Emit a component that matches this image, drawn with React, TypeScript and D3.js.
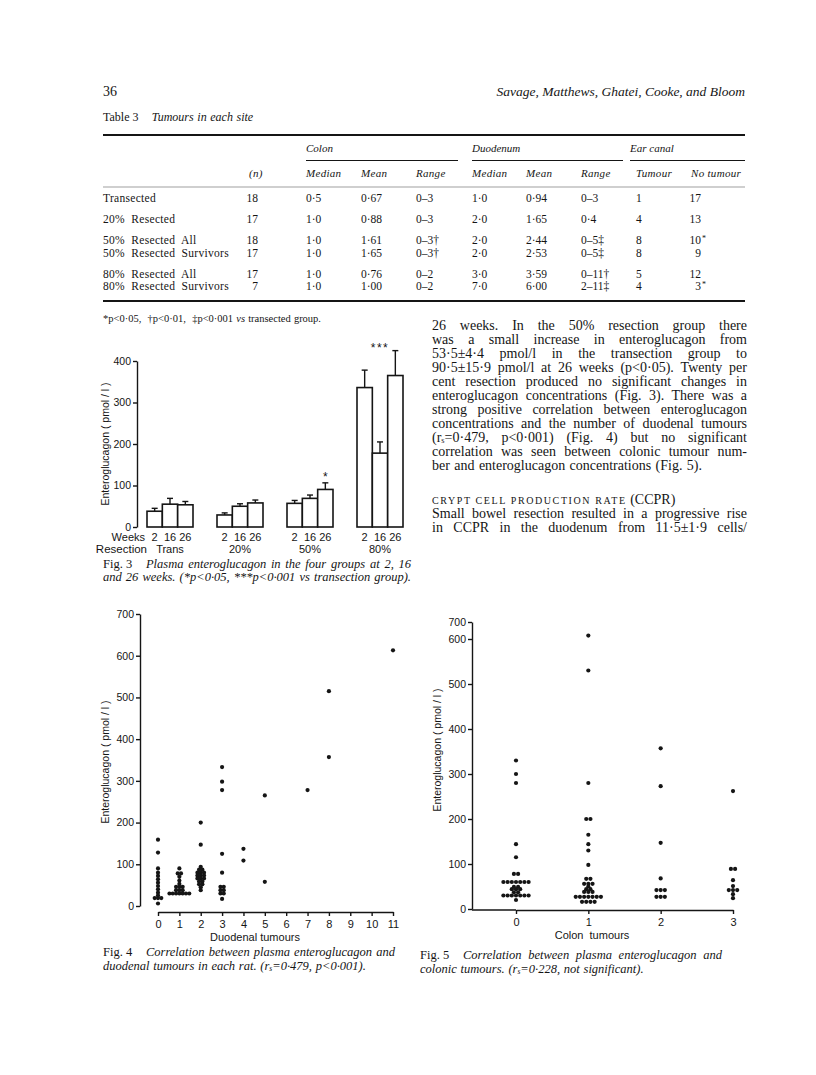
import { useEffect, useRef } from 'react';
import * as d3 from 'd3';

const SERIF = "'Liberation Serif', 'Times New Roman', serif";
const SANS = "'Liberation Sans', Arial, sans-serif";
const INK = '#151515';

// Table 3  Tumours in each site
const tableGroups = ['Colon', 'Duodenum', 'Ear canal'];
const tableColumns = ['(n)', 'Median', 'Mean', 'Range', 'Median', 'Mean', 'Range', 'Tumour', 'No tumour'];
const rowLabels = ['Transected', '20%  Resected', '50%  Resected  All', '50%  Resected  Survivors', '80%  Resected  All', '80%  Resected  Survivors'];
const rowBlock = [0, 1, 2, 2, 3, 3];
const rowN = ['18', '17', '18', '17', '17', '7'];
const colonMedian = ['0·5', '1·0', '1·0', '1·0', '1·0', '1·0'];
const colonMean = ['0·67', '0·88', '1·61', '1·65', '0·76', '1·00'];
const colonRange = ['0–3', '0–3', '0–3†', '0–3†', '0–2', '0–2'];
const duoMedian = ['1·0', '2·0', '2·0', '2·0', '3·0', '7·0'];
const duoMean = ['0·94', '1·65', '2·44', '2·53', '3·59', '6·00'];
const duoRange = ['0–3', '0·4', '0–5‡', '0–5‡', '0–11†', '2–11‡'];
const earTumour = ['1', '4', '8', '8', '5', '4'];
const earNoTumour = ['17', '13', '10', '9', '12', '3'];
const earNoTumourMark = ['', '', '*', '', '', '*'];

// Fig. 3  plasma enteroglucagon (pmol/l), mean and SEM at 2, 16, 26 weeks
const weekLabels = ['2', '16', '26'];
const resectionLabels = ['Trans', '20%', '50%', '80%'];
const transMean = [38, 55, 53.5];
const transSem = [7, 14, 8];
const resect20Mean = [29, 50, 58];
const resect20Sem = [5, 6, 7];
const resect50Mean = [57, 69, 90.5];
const resect50Sem = [7, 8, 15.9];
const resect80Mean = [336, 178, 365];
const resect80Sem = [42, 27, 60];
const barMarks = ['', '', '', '', '', '', '', '', '*', '', '', ''];
const groupMarks = ['', '', '', '***'];
const fig3Ticks = [0, 100, 200, 300, 400];

// Fig. 4  enteroglucagon by number of duodenal tumours
const duodenal0 = [159, 128, 90, 80, 72, 64, 56, 48, 40, 32, 25, 19, 19, 19, 6];
const duodenal1 = [90, 78, 78, 70, 61, 53, 46, 46, 46, 38, 38, 38, 30, 30, 30, 30, 30, 30, 30];
const duodenal2 = [200, 147, 94, 87, 87, 80, 80, 80, 73, 73, 73, 66, 66, 66, 59, 59, 52, 52, 45, 38];
const duodenal3 = [333, 298, 278, 125, 80, 46, 46, 38, 38, 30, 30, 17];
const duodenal4 = [137, 109];
const duodenal5 = [265, 58];
const duodenal7 = [278];
const duodenal8 = [515, 357];
const duodenal11 = [613];
const duodenalTicks = d3.range(0, 12);

// Fig. 5  enteroglucagon by number of colon tumours
const colon0 = [330, 300, 280, 144, 115, 78, 78, 60, 60, 60, 60, 60, 60, 60, 49, 49, 44, 44, 44, 37, 37, 30, 30, 30, 30, 30, 30, 30, 20];
const colon1 = [620, 530, 280, 200, 200, 165, 144, 130, 98, 67, 67, 56, 56, 56, 50, 44, 44, 38, 38, 38, 27, 27, 27, 27, 27, 27, 27, 16, 16, 16, 16];
const colon2 = [357, 273, 147, 68, 42, 42, 42, 27, 27, 27];
const colon3 = [262, 89, 89, 64, 51, 42, 42, 42, 33, 24];
const colonTicks = [0, 1, 2, 3];
const glucagonTicks = [0, 100, 200, 300, 400, 500, 600, 700];

// page text
const resultsLines = [
  '26 weeks. In the 50% resection group there',
  'was a small increase in enteroglucagon from',
  '53·5±4·4 pmol/l in the transection group to',
  '90·5±15·9 pmol/l at 26 weeks (p<0·05). Twenty per',
  'cent resection produced no significant changes in',
  'enteroglucagon concentrations (Fig. 3). There was a',
  'strong positive correlation between enteroglucagon',
  'concentrations and the number of duodenal tumours',
  '(r_{s}=0·479, p<0·001) (Fig. 4) but no significant',
  'correlation was seen between colonic tumour num-',
  'ber and enteroglucagon concentrations (Fig. 5).',
];
const ccprLines = [
  'Small bowel resection resulted in a progressive rise',
  'in CCPR in the duodenum from 11·5±1·9 cells/',
];

function richText(sel, str, size) {
  const parts = str.split(/(_\{[^}]*\})/).filter(Boolean);
  let shifted = false;
  parts.forEach(p => {
    const m = p.match(/^_\{(.*)\}$/);
    if (m) {
      sel.append('tspan').attr('dy', size * 0.1).attr('font-size', size * 0.6).text(m[1]);
      shifted = true;
    } else {
      const t = sel.append('tspan').text(p);
      if (shifted) { t.attr('dy', -size * 0.1); shifted = false; }
    }
  });
}

// lays out one line word by word, stretching the gaps when a width is given
function setLine(g, spec) {
  const { x, y, size } = spec;
  let start = x;
  if (spec.lead) {
    const lead = g.append('text').attr('x', x).attr('y', y).attr('font-size', size).text(spec.lead);
    start = x + lead.node().getComputedTextLength() + size * 1.1;
  }
  const words = spec.text.split(' ');
  const nodes = words.map(w => {
    const flip = /^\/.+\/$/.test(w);
    const italic = flip ? !spec.italic : spec.italic;
    const t = g.append('text').attr('y', y).attr('font-size', size)
      .attr('font-style', italic ? 'italic' : 'normal');
    richText(t, flip ? w.slice(1, -1) : w, size);
    return t;
  });
  const widths = nodes.map(n => n.node().getComputedTextLength());
  let gap = size * 0.3;
  if (spec.width && words.length > 1) gap = (x + spec.width - start - d3.sum(widths)) / (words.length - 1);
  let cx = start;
  nodes.forEach((n, i) => { n.attr('x', cx); cx += widths[i] + gap; });
}

function styleAxis(a, size = 10.5) {
  a.select('.domain').attr('stroke', INK).attr('stroke-width', 1.4);
  a.selectAll('.tick line').attr('stroke', INK).attr('stroke-width', 1.4);
  a.selectAll('.tick text').attr('fill', INK).attr('font-family', SANS).attr('font-size', size);
}

function drawPage(svg) {
  const g = svg.append('g').attr('font-family', SERIF).attr('fill', INK);
  g.append('text').attr('x', 103).attr('y', 96).attr('font-size', 14).text('36');
  g.append('text').attr('x', 745).attr('y', 96).attr('font-size', 13.5).attr('font-style', 'italic')
    .attr('text-anchor', 'end').text('Savage, Matthews, Ghatei, Cooke, and Bloom');

  resultsLines.forEach((line, i) => {
    setLine(g, { x: 432, y: 330 + i * 14, size: 14, text: line, width: i === resultsLines.length - 1 ? 270 : 315 });
  });
  const head = g.append('text').attr('x', 432).attr('y', 504).attr('font-size', 10);
  head.append('tspan').attr('letter-spacing', 1.6).text('CRYPT CELL PRODUCTION RATE');
  head.append('tspan').attr('font-size', 14).text(' (CCPR)');
  ccprLines.forEach((line, i) => {
    setLine(g, { x: 432, y: 518 + i * 14, size: 14, text: line, width: 315 });
  });

  // figure captions
  setLine(g, { x: 103, y: 568, size: 12.5, lead: 'Fig. 3', italic: true, width: 308, text: 'Plasma enteroglucagon in the four groups at 2, 16' });
  setLine(g, { x: 103, y: 581, size: 12.5, italic: true, width: 308, text: 'and 26 weeks. (*p<0·05, ***p<0·001 vs transection group).' });
  setLine(g, { x: 103, y: 956, size: 12.5, lead: 'Fig. 4', italic: true, width: 292, text: 'Correlation between plasma enteroglucagon and' });
  setLine(g, { x: 103, y: 970, size: 12.5, italic: true, text: 'duodenal tumours in each rat. (r_{s}=0·479, p<0·001).' });
  setLine(g, { x: 420, y: 959, size: 12.5, lead: 'Fig. 5', italic: true, width: 302, text: 'Correlation between plasma enteroglucagon and' });
  setLine(g, { x: 420, y: 973, size: 12.5, italic: true, text: 'colonic tumours. (r_{s}=0·228, not significant).' });
}

function drawTable(svg) {
  const g = svg.append('g').attr('font-family', SERIF).attr('fill', INK);
  const left = 103;
  const right = 745;
  setLine(g, { x: left, y: 121, size: 12, lead: 'Table 3', italic: true, text: 'Tumours in each site' });

  const rule = (y, x1, x2, w, c = INK) => g.append('line').attr('x1', x1).attr('x2', x2)
    .attr('y1', y).attr('y2', y).attr('stroke', c).attr('stroke-width', w);
  rule(135, left, right, 2);

  const colX = [258, 306, 361, 416, 472, 526, 581, 636, 701];
  const groupSpan = [[306, 458], [472, 623], [630, right]];
  tableGroups.forEach((name, i) => {
    g.append('text').attr('x', groupSpan[i][0]).attr('y', 152).attr('font-size', 11)
      .attr('font-style', 'italic').text(name);
    rule(160.5, groupSpan[i][0], groupSpan[i][1], 1);
  });
  tableColumns.forEach((name, i) => {
    g.append('text').attr('x', i === 0 ? 249 : i === 8 ? 691 : colX[i]).attr('y', 177)
      .attr('font-size', 11).attr('font-style', 'italic').attr('letter-spacing', 0.3).text(name);
  });
  rule(187, left, right, 0.7, '#777');

  const columns = [rowN, colonMedian, colonMean, colonRange, duoMedian, duoMean, duoRange, earTumour, earNoTumour];
  rowLabels.forEach((label, r) => {
    const y = 202 + rowBlock[r] * 21 + (r - rowBlock[r]) * 12.5;
    g.append('text').attr('x', left).attr('y', y).attr('font-size', 11.5)
      .style('white-space', 'pre').attr('letter-spacing', 0.3).text(label);
    columns.forEach((col, c) => {
      const end = c === 0 || c === 8;
      g.append('text').attr('x', colX[c]).attr('y', y).attr('font-size', 11.5)
        .attr('text-anchor', end ? 'end' : 'start').text(col[r]);
    });
    if (earNoTumourMark[r]) {
      g.append('text').attr('x', colX[8] + 1).attr('y', y - 3).attr('font-size', 8).text(earNoTumourMark[r]);
    }
  });
  rule(301, left, right, 2);
  setLine(g, { x: left, y: 322, size: 10.5, text: '*p<0·05,  †p<0·01,  ‡p<0·001 /vs/ transected group.' });
}

function drawFig3(svg) {
  const g = svg.append('g');
  const series = [
    { mean: transMean, sem: transSem },
    { mean: resect20Mean, sem: resect20Sem },
    { mean: resect50Mean, sem: resect50Sem },
    { mean: resect80Mean, sem: resect80Sem },
  ];
  const x0 = d3.scaleBand().domain(resectionLabels).range([147, 403]).paddingInner(24 / 70).paddingOuter(0);
  const x1 = d3.scaleBand().domain(weekLabels).range([0, x0.bandwidth()]);
  const y = d3.scaleLinear().domain([0, 400]).range([527, 361]);

  const bars = series.flatMap((s, gi) => s.mean.map((m, wi) => ({
    group: resectionLabels[gi], week: weekLabels[wi], mean: m, sem: s.sem[wi], mark: barMarks[gi * 3 + wi],
  })));

  g.selectAll('rect.bar').data(bars).join('rect')
    .attr('x', d => x0(d.group) + x1(d.week))
    .attr('y', d => y(d.mean))
    .attr('width', x1.bandwidth())
    .attr('height', d => y(0) - y(d.mean))
    .attr('fill', '#fff').attr('stroke', INK).attr('stroke-width', 1.6);

  const cx = d => x0(d.group) + x1(d.week) + x1.bandwidth() / 2;
  g.selectAll('line.err').data(bars).join('line')
    .attr('x1', cx).attr('x2', cx)
    .attr('y1', d => y(d.mean)).attr('y2', d => y(d.mean + d.sem))
    .attr('stroke', INK).attr('stroke-width', 1.4);
  g.selectAll('line.cap').data(bars).join('line')
    .attr('x1', d => cx(d) - 3).attr('x2', d => cx(d) + 3)
    .attr('y1', d => y(d.mean + d.sem)).attr('y2', d => y(d.mean + d.sem))
    .attr('stroke', INK).attr('stroke-width', 1.4);

  g.selectAll('text.mark').data(bars.filter(d => d.mark)).join('text')
    .attr('x', cx).attr('y', d => y(d.mean + d.sem) - 2)
    .attr('text-anchor', 'middle').attr('font-family', SANS).attr('font-size', 12).attr('fill', INK)
    .text(d => d.mark);
  resectionLabels.forEach((lab, gi) => {
    if (!groupMarks[gi]) return;
    const top = d3.max(bars.filter(d => d.group === lab), d => d.mean + d.sem);
    g.append('text').attr('x', x0(lab) + x0.bandwidth() / 2).attr('y', y(top) + 1)
      .attr('text-anchor', 'middle').attr('font-family', SANS).attr('font-size', 12)
      .attr('letter-spacing', 1.5).attr('fill', INK).text(groupMarks[gi]);
  });

  const yAxis = g.append('g').attr('transform', 'translate(137,0)')
    .call(d3.axisLeft(y).tickValues(fig3Ticks).tickSize(4).tickSizeOuter(0).tickPadding(2));
  styleAxis(yAxis);

  const lab = g.append('g').attr('font-family', SANS).attr('font-size', 11).attr('fill', INK);
  lab.append('text').attr('x', 145).attr('y', 541).attr('text-anchor', 'end').text('Weeks');
  lab.append('text').attr('x', 147).attr('y', 553).attr('text-anchor', 'end').attr('font-size', 11.5).text('Resection');
  bars.forEach(d => {
    lab.append('text').attr('x', cx(d)).attr('y', 541).attr('text-anchor', 'middle').text(d.week);
  });
  resectionLabels.forEach(r => {
    lab.append('text').attr('x', x0(r) + x0.bandwidth() / 2).attr('y', 553).attr('text-anchor', 'middle').text(r);
  });
  lab.append('text').attr('transform', 'translate(109,444) rotate(-90)').attr('text-anchor', 'middle')
    .attr('font-size', 10.5).style('white-space', 'pre').text('Enteroglucagon ( pmol / l )');
}

function dodge(points, step) {
  const out = [];
  d3.group(points, d => d.count, d => d.value).forEach(byValue => {
    byValue.forEach(arr => arr.forEach((p, i) => out.push({ ...p, dx: (i - (arr.length - 1) / 2) * step })));
  });
  return out;
}

function drawScatter(svg, cfg) {
  const g = svg.append('g');
  const x = d3.scaleLinear().domain(cfg.xDomain).range(cfg.xRange);
  const y = d3.scaleLinear().domain(cfg.yDomain).range(cfg.yRange);

  const yAxis = g.append('g').attr('transform', `translate(${cfg.axisX},0)`)
    .call(d3.axisLeft(y).tickValues(glucagonTicks).tickSize(4).tickSizeOuter(0).tickPadding(2));
  styleAxis(yAxis);
  const xAxis = g.append('g').attr('transform', `translate(0,${cfg.xAxisY})`)
    .call(d3.axisBottom(x).tickValues(cfg.xTicks).tickFormat(d3.format('d'))
      .tickSize(4).tickSizeOuter(0).tickPadding(4.5));
  styleAxis(xAxis, 11);
  if (cfg.joinAxes) {
    g.append('line').attr('x1', cfg.axisX).attr('x2', x(cfg.xDomain[0]))
      .attr('y1', cfg.xAxisY).attr('y2', cfg.xAxisY).attr('stroke', INK).attr('stroke-width', 1.4);
  }

  const pts = dodge(cfg.points, cfg.step);
  g.selectAll('circle').data(pts).join('circle')
    .attr('cx', d => x(d.count) + d.dx)
    .attr('cy', d => y(d.value))
    .attr('r', 2.1).attr('fill', INK);

  const lab = g.append('g').attr('font-family', SANS).attr('fill', INK);
  lab.append('text').attr('x', cfg.titleX).attr('y', cfg.xAxisY + 29).attr('text-anchor', 'middle')
    .attr('font-size', 11).style('white-space', 'pre').text(cfg.title);
  lab.append('text').attr('transform', `translate(${cfg.yTitleX},${cfg.yTitleY}) rotate(-90)`)
    .attr('text-anchor', 'middle').attr('font-size', 10.5).style('white-space', 'pre')
    .text('Enteroglucagon ( pmol / l )');
}

const asPoints = (count, values) => values.map(value => ({ count, value }));

export default function App() {
  const svgRef = useRef(null);

  useEffect(() => {
    const svg = d3.select(svgRef.current);
    svg.selectAll('*').remove();
    svg.append('rect').attr('width', 816).attr('height', 1075).attr('fill', '#fff');

    drawPage(svg);
    drawTable(svg);
    drawFig3(svg);

    drawScatter(svg, {
      xDomain: [0, 11], xRange: [158, 393], yDomain: [0, 700], yRange: [906, 614], axisX: 140, xAxisY: 912,
      xTicks: duodenalTicks, title: 'Duodenal tumours', titleX: 255, yTitleX: 109, yTitleY: 762, step: 3.3,
      points: [
        ...asPoints(0, duodenal0), ...asPoints(1, duodenal1), ...asPoints(2, duodenal2),
        ...asPoints(3, duodenal3), ...asPoints(4, duodenal4), ...asPoints(5, duodenal5),
        ...asPoints(7, duodenal7), ...asPoints(8, duodenal8), ...asPoints(11, duodenal11),
      ],
    });
    // the printed axis squeezes its last step: 700 sits just above 600
    drawScatter(svg, {
      xDomain: [0, 3], xRange: [516, 733], yDomain: [0, 600, 700], yRange: [909, 639, 622], axisX: 472, xAxisY: 910,
      joinAxes: true, xTicks: colonTicks, title: 'Colon  tumours', titleX: 592, yTitleX: 441, yTitleY: 750, step: 4.2,
      points: [
        ...asPoints(0, colon0), ...asPoints(1, colon1), ...asPoints(2, colon2), ...asPoints(3, colon3),
      ],
    });
  }, []);

  return (
    <svg ref={svgRef} width={816} height={1075} style={{ position: 'absolute', left: 0, top: 0 }}></svg>
  );
}
